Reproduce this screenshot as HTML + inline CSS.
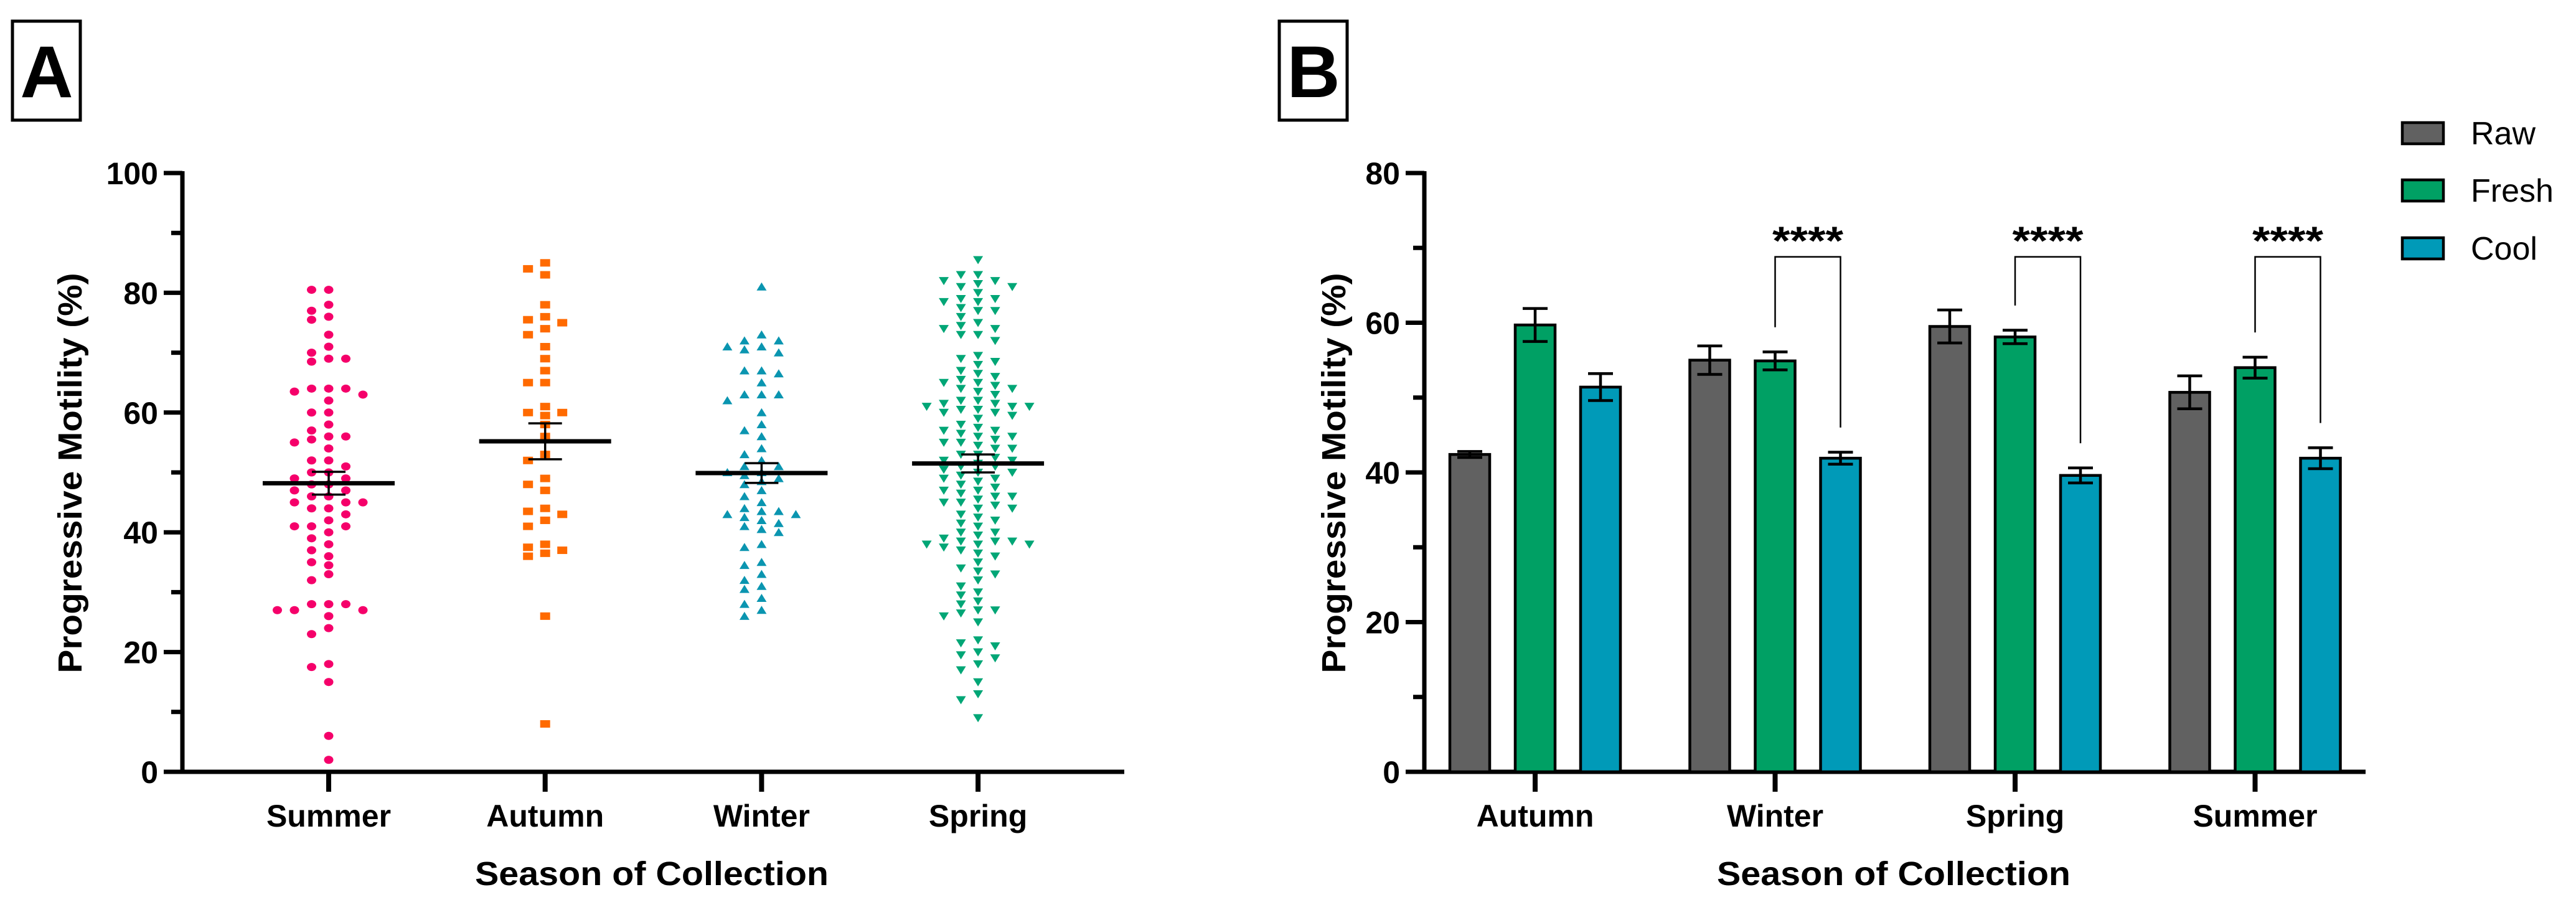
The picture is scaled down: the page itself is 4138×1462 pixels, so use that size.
<!DOCTYPE html>
<html><head><meta charset="utf-8"><style>
html,body{margin:0;padding:0;background:#fff;}
svg{display:block;font-family:"Liberation Sans",Arial,sans-serif;}
</style></head><body>
<svg id="fig" width="4138" height="1462" viewBox="0 0 4138 1462" xmlns="http://www.w3.org/2000/svg">
<rect x="0" y="0" width="4138" height="1462" fill="#fff"/>
<g>
<rect x="20" y="34" width="109" height="159" fill="none" stroke="#000" stroke-width="5"/>
<text x="75" y="156" font-size="118" font-weight="bold" text-anchor="middle">A</text>
</g>
<g>
<rect x="2055" y="34" width="109" height="159" fill="none" stroke="#000" stroke-width="5"/>
<text x="2110" y="156" font-size="118" font-weight="bold" text-anchor="middle">B</text>
</g>
<g id="gA"></g>
<g id="gB"></g>
</svg>
<script>
// ---------- Panel A data ----------
const seasonsA = ["Summer","Autumn","Winter","Spring"];
const summerVals = [80.5,80.5,78,77,76,75.5,73,71,70,69,69,68.5,64,64,64,63.5,63,62,60,60,58,57,56,56,55.5,55,54,52,52,51,50,50,49,49,48,48,47,47,46,46,45,45,45,44,44,43,42,41,41,41,40,39,38,37,36,35,34.5,33,32,28,28,28,27,27,27,26,24,23,18,17.5,15,6,2];
const autumnVals = [85,84,83,78,76,75.5,75,74,73,71,69,67,65,65,61,60,60,59.5,58,56,53,52,49,48,47,44,43.5,43,42,41,38,37.5,37,36.5,36,26,8];
const winterVals = [81,73,72,72,71,71,70.5,70,67,67,66.5,65,63,63,63,62,60,58,57,56,54,53,52,51,51,50,50,49.5,49,48.5,48,47,46,45,44,43.5,43.5,43,43,42.5,42,41.5,41,40.5,40,38,37.5,35,34.5,33,32,31,30.5,29,28,27,26];
const springVals = [85.5,83,83,82,82,81.5,81,81,80,79,79,78.5,78.5,77.5,77,77,76,75,74.5,74,74,73,73,72,69.5,69,68.5,68,67,66.5,66,65.5,65,65,64.5,64,64,63.5,63,62,62,61.5,61.5,61,61,61,60.5,60.5,60,60,59.5,59,58,57.5,57,57,56.5,56,56,55.5,55,55,54.5,54,54,53,53,52.5,52,52,51.5,51,51,50.5,50,50,49.5,49,49,48.5,48,47.5,47,47,46.5,46,46,45.5,45,45,44.5,44,44,43,42.5,42,41.5,41,40,40,39.5,39,38.5,38.5,38.5,38,38,38,37.5,37,36.5,36,35,34,33.5,33,32,31,30,29.5,28.5,28,27,27,26.5,26,25,22,21.5,21,20,19.5,19,18,17,15,13,12,9];
const meansA = [48.2,55.2,49.9,51.5];
const semA = [1.9,3.0,1.65,1.5];
const ticksA = [0,20,40,60,80,100];
const minorA = [10,30,50,70,90];

// ---------- Panel B data ----------
const seasonsB = ["Autumn","Winter","Spring","Summer"];
const seriesB = ["Raw","Fresh","Cool"];
const rawVals = [42.4,55.0,59.5,50.7];
const freshVals = [59.7,54.9,58.1,54.0];
const coolVals = [51.4,41.9,39.6,41.9];
const rawErr = [0.4,1.9,2.2,2.2];
const freshErr = [2.2,1.2,0.9,1.4];
const coolErr = [1.8,0.8,1.0,1.4];
const sigGroups = [1,2,3];
const sigLabels = ["****","****","****"];
const ticksB = [0,20,40,60,80];
const minorB = [10,30,50,70];

const NS="http://www.w3.org/2000/svg";
function mk(parent,tag,attrs,text){const e=document.createElementNS(NS,tag);for(const k in attrs)e.setAttribute(k,attrs[k]);if(text!==undefined)e.textContent=text;parent.appendChild(e);return e;}

// ===== Panel A =====
const gA=document.getElementById('gA');
const A_x0=293, A_y0=1240, A_ytop=278;
const yA=v=>A_y0-(v/100)*(A_y0-A_ytop);
const catXA=i=>528+i*347.7;
const colorsA=["#f5006a","#ff6a00","#0a95b0","#00a676"];
const shapesA=["circle","square","tri-up","tri-down"];
const valsA=[summerVals,autumnVals,winterVals,springVals];

let ax=mk(gA,'line',{x1:A_x0,y1:A_ytop-3,x2:A_x0,y2:A_y0+3.5,stroke:'#000','stroke-width':7});


ax=mk(gA,'line',{x1:A_x0-3.5,y1:A_y0,x2:1806,y2:A_y0,stroke:'#000','stroke-width':7});


ticksA.forEach(t=>{
  const tk=mk(gA,'line',{x1:A_x0-30,y1:yA(t),x2:A_x0,y2:yA(t),stroke:'#000','stroke-width':7});
  
  
  const lb=mk(gA,'text',{x:254,y:yA(t)+18,'font-size':50,'font-weight':'bold','text-anchor':'end'},String(t));
  
  
});
minorA.forEach(t=>{
  const tk=mk(gA,'line',{x1:A_x0-18,y1:yA(t),x2:A_x0,y2:yA(t),stroke:'#000','stroke-width':7});
  
  
});
seasonsA.forEach((s,i)=>{
  const tk=mk(gA,'line',{x1:catXA(i),y1:A_y0,x2:catXA(i),y2:A_y0+32,stroke:'#000','stroke-width':8});
  
  
  const lb=mk(gA,'text',{x:catXA(i),y:1328,'font-size':50,'font-weight':'bold','text-anchor':'middle'},s);
  
  
});
let tt=mk(gA,'text',{x:1047,y:1422,'font-size':54,'font-weight':'bold','text-anchor':'middle',textLength:568,lengthAdjust:'spacingAndGlyphs'},'Season of Collection');


tt=mk(gA,'text',{x:0,y:0,'font-size':54,'font-weight':'bold','text-anchor':'middle',textLength:643,lengthAdjust:'spacingAndGlyphs',transform:'translate(131,760) rotate(-90)'},'Progressive Motility (%)');



function drawMarker(g,shape,x,y,color){
  let e;
  if(shape==='circle') e=mk(g,'ellipse',{cx:x,cy:y,rx:7.5,ry:6.5,fill:color});
  else if(shape==='square') e=mk(g,'rect',{x:x-8,y:y-6,width:16,height:12,fill:color});
  else if(shape==='tri-up') e=mk(g,'polygon',{points:`${x-8},${y+6} ${x+8},${y+6} ${x},${y-7}`,fill:color});
  else e=mk(g,'polygon',{points:`${x-8},${y-6} ${x+8},${y-6} ${x},${y+7}`,fill:color});
  return e;
}
const STEP=27.5;
valsA.forEach((vals,gi)=>{
  const grp=mk(gA,'g',{});
  
  
  const placed=[];
  const cands=[0];
  for(let k=1;k<=12;k++){cands.push(-k*0.5,k*0.5);}
  const sorted=vals.slice().sort((a,b)=>b-a);
  sorted.forEach(v=>{
    const y=yA(v);
    let off=0;
    for(const c of cands){
      const x=c*STEP;
      if(!placed.some(p=>Math.abs(p.x-x)<STEP*0.98&&Math.abs(p.y-y)<13)){off=x;break;}
    }
    placed.push({x:off,y:y});
    const m=drawMarker(grp,shapesA[gi],catXA(gi)+off,y,colorsA[gi]);
    
    
  });
  const cx=catXA(gi);
  const ml=mk(gA,'line',{x1:cx-106,y1:yA(meansA[gi]),x2:cx+106,y2:yA(meansA[gi]),stroke:'#000','stroke-width':7});
  
  
  const eb=mk(gA,'path',{d:`M${cx},${yA(meansA[gi]+semA[gi])}V${yA(meansA[gi]-semA[gi])}M${cx-27},${yA(meansA[gi]+semA[gi])}H${cx+27}M${cx-27},${yA(meansA[gi]-semA[gi])}H${cx+27}`,stroke:'#000','stroke-width':3.5,fill:'none'});
  
  
});

// ===== Panel B =====
const gB=document.getElementById('gB');
const B_x0=2288, B_y0=1240, B_ytop=278;
const yB=v=>B_y0-(v/80)*(B_y0-B_ytop);
const catXB=i=>2466+i*385.5;
const barOff=[-105,0,105];
const BW=64;
const colorsB=["#616161","#00a064","#009ab8"];
const valsB=[rawVals,freshVals,coolVals];
const errsB=[rawErr,freshErr,coolErr];

ax=mk(gB,'line',{x1:B_x0,y1:B_ytop-3,x2:B_x0,y2:B_y0+3.5,stroke:'#000','stroke-width':7});


ax=mk(gB,'line',{x1:B_x0-3.5,y1:B_y0,x2:3800,y2:B_y0,stroke:'#000','stroke-width':7});


ticksB.forEach(t=>{
  const tk=mk(gB,'line',{x1:B_x0-30,y1:yB(t),x2:B_x0,y2:yB(t),stroke:'#000','stroke-width':7});
  
  
  const lb=mk(gB,'text',{x:2249,y:yB(t)+18,'font-size':50,'font-weight':'bold','text-anchor':'end'},String(t));
  
  
});
minorB.forEach(t=>{
  const tk=mk(gB,'line',{x1:B_x0-18,y1:yB(t),x2:B_x0,y2:yB(t),stroke:'#000','stroke-width':7});
  
  
});
seasonsB.forEach((s,i)=>{
  const tk=mk(gB,'line',{x1:catXB(i),y1:B_y0,x2:catXB(i),y2:B_y0+32,stroke:'#000','stroke-width':8});
  
  
  const lb=mk(gB,'text',{x:catXB(i),y:1328,'font-size':50,'font-weight':'bold','text-anchor':'middle'},s);
  
  
});
tt=mk(gB,'text',{x:3042,y:1422,'font-size':54,'font-weight':'bold','text-anchor':'middle',textLength:568,lengthAdjust:'spacingAndGlyphs'},'Season of Collection');


tt=mk(gB,'text',{x:0,y:0,'font-size':54,'font-weight':'bold','text-anchor':'middle',textLength:643,lengthAdjust:'spacingAndGlyphs',transform:'translate(2161,760) rotate(-90)'},'Progressive Motility (%)');



seriesB.forEach((sname,si)=>{
  seasonsB.forEach((season,ci)=>{
    const v=valsB[si][ci], e=errsB[si][ci];
    const cx=catXB(ci)+barOff[si];
    const r=mk(gB,'rect',{x:cx-BW/2,y:yB(v),width:BW,height:B_y0-yB(v),fill:colorsB[si],stroke:'#000','stroke-width':4.5});
    
    
    const eb=mk(gB,'path',{d:`M${cx},${yB(v+e)}V${yB(v-e)}M${cx-20},${yB(v+e)}H${cx+20}M${cx-20},${yB(v-e)}H${cx+20}`,stroke:'#000','stroke-width':4.5,fill:'none'});
    
    
  });
});
sigGroups.forEach((ci,k)=>{
  const xl=catXB(ci)+barOff[1], xr=catXB(ci)+barOff[2];
  const yl=yB(freshVals[ci]+freshErr[ci]+3.3), yr=yB(coolVals[ci]+coolErr[ci]+3.3), yt=yB(68.8);
  const br=mk(gB,'path',{d:`M${xl},${yl}V${yt}H${xr}V${yr}`,stroke:'#000','stroke-width':2.5,fill:'none'});
  
  
  const st=mk(gB,'text',{x:(xl+xr)/2,y:yt-4,'font-size':64,'font-weight':'bold','text-anchor':'middle',textLength:114,lengthAdjust:'spacingAndGlyphs'},sigLabels[k]);
  
  
});
// legend
const legY=[214,306,399];
seriesB.forEach((sname,si)=>{
  const lg=mk(gB,'g',{});
  
  
  mk(lg,'rect',{x:3859,y:legY[si]-17,width:66,height:34,fill:colorsB[si],stroke:'#000','stroke-width':4.5});
  mk(lg,'text',{x:3969,y:legY[si]+18,'font-size':52},sname);
});
</script>
</body></html>
